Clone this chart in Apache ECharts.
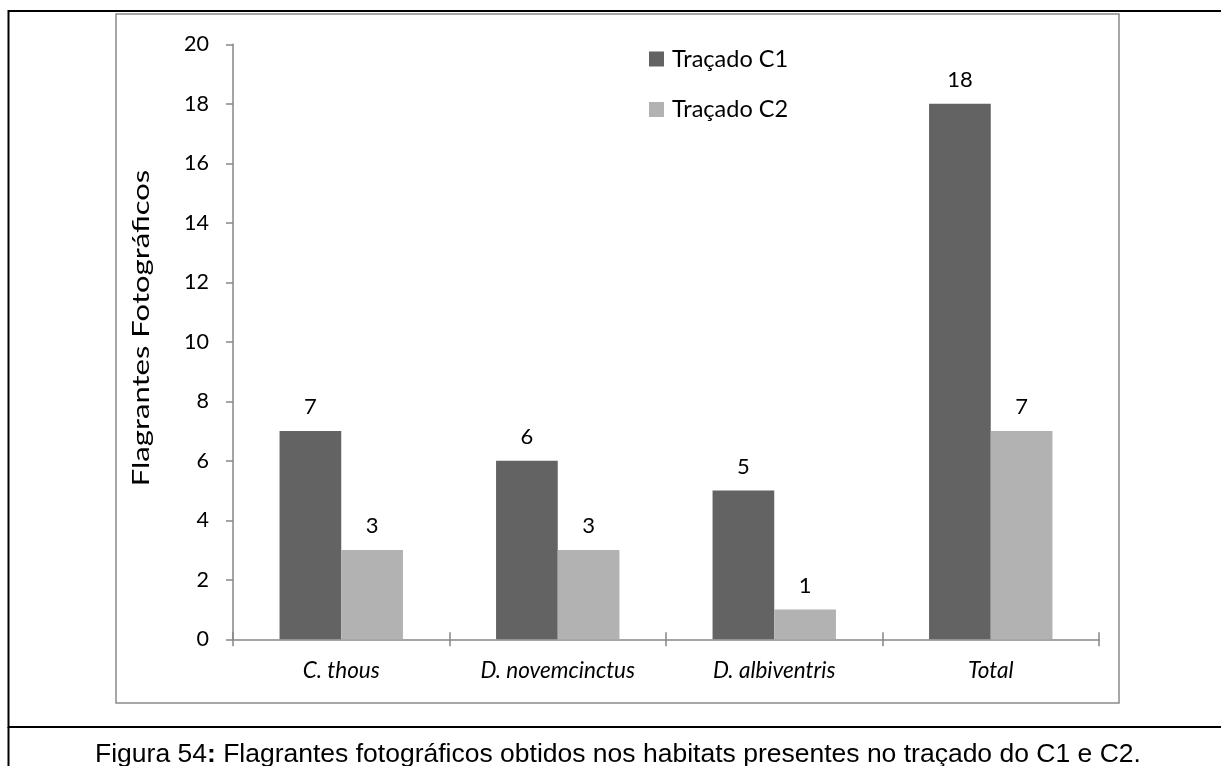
<!DOCTYPE html>
<html>
<head>
<meta charset="utf-8">
<script src="https://cdn.jsdelivr.net/npm/echarts@6/dist/echarts.min.js"></script>
<style>
html,body{margin:0;padding:0;background:#fff;}
#chart{width:1221px;height:766px;}
</style>
</head>
<body>
<div id="chart"></div>
<script>
const categories = ['C. thous', 'D. novemcinctus', 'D. albiventris', 'Total'];
const seriesNames = ['Traçado C1', 'Traçado C2'];
const c1Values = [7, 6, 5, 18];
const c2Values = [3, 3, 1, 7];
const yTicks = { min: 0, max: 20, interval: 2 };
const yAxisName = 'Flagrantes Fotográficos';
const captionBold = 'Figura 54';
const captionRest = ' Flagrantes fotográficos obtidos nos habitats presentes no traçado do C1 e C2.';

const FONT = 'Lato';
const axisGray = '#868686';

const chart = echarts.init(document.getElementById('chart'), null, { renderer: 'canvas' });

const labelStyle = {
  show: true,
  position: 'top',
  distance: 13,
  color: '#000',
  fontFamily: FONT,
  fontSize: 22
};

chart.setOption({
  animation: false,
  backgroundColor: '#fff',
  grid: { left: 233, right: 122, top: 44.3, bottom: 126.7, containLabel: false },
  legend: {
    orient: 'vertical',
    left: 644,
    top: 42,
    itemWidth: 15,
    itemHeight: 15,
    itemGap: 26.5,
    icon: 'rect',
    textStyle: { fontFamily: FONT, fontSize: 23.5, color: '#000', padding: [0, 0, 0, 3] },
    data: seriesNames
  },
  xAxis: [
    {
      type: 'category',
      data: categories,
      position: 'bottom',
      axisLine: { show: true, lineStyle: { color: axisGray, width: 1.5 } },
      axisTick: { show: true, length: 7, inside: false, lineStyle: { color: axisGray, width: 1.5 } },
      axisLabel: { margin: 20, color: '#000', fontFamily: FONT, fontSize: 22.5, fontStyle: 'italic', interval: 0 },
      splitLine: { show: false }
    },
    {
      type: 'category',
      data: categories,
      position: 'bottom',
      axisLine: { show: false },
      axisTick: { show: true, length: 7, inside: true, lineStyle: { color: axisGray, width: 1.5 } },
      axisLabel: { show: false },
      splitLine: { show: false }
    }
  ],
  yAxis: {
    type: 'value',
    min: yTicks.min,
    max: yTicks.max,
    interval: yTicks.interval,
    axisLine: { show: true, lineStyle: { color: axisGray, width: 1.5 } },
    axisTick: { show: true, length: 7, lineStyle: { color: axisGray, width: 1.5 } },
    axisLabel: { margin: 24, color: '#000', fontFamily: FONT, fontSize: 21.5 },
    splitLine: { show: false }
  },
  series: [
    {
      name: seriesNames[0],
      type: 'bar',
      data: c1Values,
      barGap: '0%',
      barCategoryGap: '43%',
      itemStyle: { color: '#636363' },
      label: labelStyle
    },
    {
      name: seriesNames[1],
      type: 'bar',
      data: c2Values,
      barGap: '0%',
      barCategoryGap: '43%',
      itemStyle: { color: '#b2b2b2' },
      label: labelStyle
    }
  ],
  graphic: [
    {
      type: 'rect',
      shape: { x: 8.5, y: 11, width: 1240, height: 716 },
      style: { fill: 'none', stroke: '#000', lineWidth: 2 },
      silent: true
    },
    {
      type: 'line',
      shape: { x1: 8.5, y1: 727, x2: 8.5, y2: 800 },
      style: { stroke: '#000', lineWidth: 2 },
      silent: true
    },
    {
      type: 'rect',
      shape: { x: 116, y: 14, width: 1003, height: 689 },
      style: { fill: 'none', stroke: '#8a8a8a', lineWidth: 1.5 },
      silent: true
    },
    {
      type: 'text',
      x: 142,
      y: 328,
      rotation: Math.PI / 2,
      scaleX: 1.35,
      scaleY: 1,
      style: {
        text: yAxisName,
        align: 'center',
        verticalAlign: 'middle',
        fontFamily: FONT,
        fontSize: 23,
        fill: '#000'
      },
      silent: true
    },
    {
      type: 'text',
      left: 95,
      top: 741,
      style: {
        text: '{n|' + captionBold + '}{b|:}{n|' + captionRest + '}',
        rich: {
          n: { fontFamily: 'Liberation Sans', fontSize: 26.5, color: '#000' },
          b: { fontFamily: 'Liberation Sans', fontSize: 26.5, fontWeight: 'bold', color: '#000' }
        }
      },
      silent: true
    }
  ]
});
</script>
</body>
</html>
